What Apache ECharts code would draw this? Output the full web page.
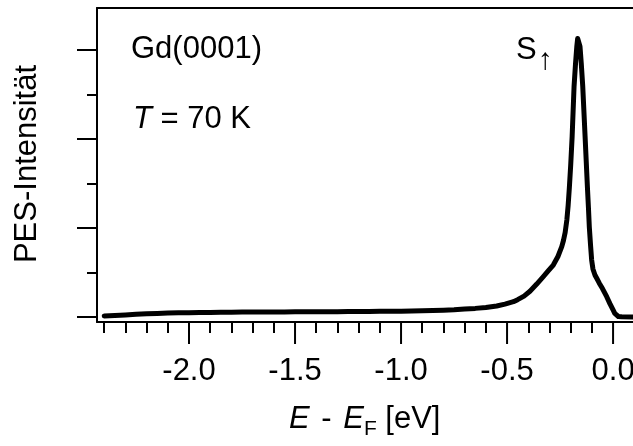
<!DOCTYPE html>
<html>
<head>
<meta charset="utf-8">
<script src="https://cdn.jsdelivr.net/npm/echarts@6/dist/echarts.min.js"></script>
<style>html,body{margin:0;padding:0;background:#fff;}#c{width:633px;height:446px;}</style>
</head>
<body>
<div id="c"></div>
<script>
// Energy E - E_F [eV]
const energy = [
  -2.40,-2.35,-2.30,-2.25,-2.20,-2.15,-2.10,-2.05,-2.00,-1.95,-1.90,-1.85,-1.80,-1.75,-1.70,-1.65,-1.60,-1.55,
  -1.50,-1.45,-1.40,-1.35,-1.30,-1.25,-1.20,-1.15,-1.10,-1.05,-1.00,-0.95,-0.90,-0.85,-0.80,-0.75,-0.70,-0.65,
  -0.60,-0.549,-0.51,-0.47,-0.45,-0.42,-0.392,-0.36,-0.329,-0.305,-0.282,-0.26,-0.242,-0.234,-0.226,-0.218,
  -0.212,-0.206,-0.200,-0.193,-0.184,-0.177,-0.171,-0.167,-0.164,-0.160,-0.156,-0.150,-0.143,-0.132,-0.121,
  -0.116,-0.112,-0.106,-0.101,-0.095,-0.085,-0.077,-0.065,-0.050,-0.030,-0.015,0.000,0.008,0.015,0.025,0.040,0.094
];
// PES intensity (arb. units)
const intensity = [
  0.012,0.016,0.022,0.030,0.036,0.040,0.044,0.047,0.049,0.050,0.052,0.053,0.054,0.055,0.055,0.056,0.057,0.057,
  0.058,0.058,0.059,0.060,0.060,0.061,0.062,0.063,0.064,0.065,0.066,0.068,0.070,0.073,0.077,0.082,0.090,0.097,
  0.107,0.124,0.145,0.172,0.195,0.235,0.290,0.370,0.453,0.520,0.584,0.680,0.790,0.860,0.950,1.090,
  1.250,1.460,1.700,2.030,2.590,2.850,3.040,3.130,3.150,3.120,3.040,2.850,2.590,2.030,1.460,
  1.220,1.010,0.800,0.640,0.540,0.470,0.435,0.380,0.320,0.228,0.150,0.079,0.040,0.018,0.006,0.002,0.000
];
const xMajorTicks = [-2.0,-1.5,-1.0,-0.5,0.0];
const xMinorTicks = [-2.4,-2.3,-2.2,-2.1,-1.9,-1.8,-1.7,-1.6,-1.4,-1.3,-1.2,-1.1,-0.9,-0.8,-0.7,-0.6,-0.4,-0.3,-0.2,-0.1];
const yMajorTicks = [0,1,2,3];
const yMinorTicks = [0.5,1.5,2.5];
const xLabels = ['-2.0','-1.5','-1.0','-0.5','0.0'];

const FONT = 'Liberation Sans, Arial, Helvetica, sans-serif';
const chart = echarts.init(document.getElementById('c'), null, {renderer:'canvas'});
const data = energy.map((e,i)=>[e,intensity[i]]);
const xMin = -2.434, xMax = 0.094, yMin = -0.056, yMax = 3.472;
const MAJOR_TICK_LEN = 22;

function xAx(extra){
  return Object.assign({type:'value', min:xMin, max:xMax, position:'bottom', gridIndex:0,
    axisLine:{show:false, onZero:false}, axisTick:{show:false}, axisLabel:{show:false}, splitLine:{show:false}}, extra);
}
function yAx(extra){
  return Object.assign({type:'value', min:yMin, max:yMax, position:'left', gridIndex:0,
    axisLine:{show:false, onZero:false}, axisTick:{show:false}, axisLabel:{show:false}, splitLine:{show:false}}, extra);
}
const gridBox = {left:97, top:8, right:0, bottom:124, outerBoundsMode:'none'};

chart.setOption({
  backgroundColor:'#fff',
  animation:false,
  grid:[Object.assign({}, gridBox), Object.assign({}, gridBox)],
  xAxis:[
    xAx({axisLine:{show:true, onZero:false, lineStyle:{color:'#000', width:2}},
         axisTick:{show:true, length:11, lineStyle:{color:'#000', width:2}, customValues:xMinorTicks.slice()}}),
    xAx({gridIndex:1, axisLabel:{show:true, customValues:xMajorTicks.slice(), margin:34, color:'#000', fontSize:31, fontFamily:FONT,
       formatter:function(v){ const i = xMajorTicks.findIndex(t=>Math.abs(t-v)<1e-6); return i>=0?xLabels[i]:''; }}}),
    xAx({gridIndex:1, position:'top', axisLine:{show:true, onZero:false, lineStyle:{color:'#000', width:2}}})
  ],
  yAxis:[
    yAx({axisLine:{show:true, onZero:false, lineStyle:{color:'#000', width:2}},
         axisTick:{show:true, length:20, lineStyle:{color:'#000', width:2}, customValues:yMajorTicks.slice()}}),
    yAx({axisTick:{show:true, length:10, lineStyle:{color:'#000', width:2}, customValues:yMinorTicks.slice()}}),
    yAx({gridIndex:1})
  ],
  series:[
    {
      type:'line', data:data, xAxisIndex:0, yAxisIndex:0,
      showSymbol:false, symbol:'none', smooth:false,
      lineStyle:{color:'#000', width:5, join:'round', cap:'round'}
    },
    {
      // long major ticks of the energy axis, placed through the axis scale
      type:'custom', xAxisIndex:0, yAxisIndex:0, clip:false, silent:true, z:5,
      data:xMajorTicks.map(v=>[v, yMin]),
      encode:{x:0, y:1},
      renderItem:function(params, api){
        const p = api.coord([api.value(0), api.value(1)]);
        return {type:'line', shape:{x1:p[0], y1:p[1], x2:p[0], y2:p[1]+MAJOR_TICK_LEN},
                style:{stroke:'#000', lineWidth:2}};
      }
    }
  ],
  graphic:[
    {type:'text', left:131, top:34, style:{text:'Gd(0001)', font:'31px '+FONT, fill:'#000'}},
    {type:'text', left:133, top:104, style:{text:'{i|T} = 70 K', font:'31px '+FONT, fill:'#000',
      rich:{i:{fontStyle:'italic', fontSize:31, fontFamily:FONT}}}},
    {type:'text', left:516, top:35, style:{text:'{s|S}{a|↑}', fill:'#000',
      rich:{s:{fontSize:31, fontFamily:FONT, verticalAlign:'top'}, a:{fontSize:30, fontFamily:FONT, padding:[11,0,0,1], verticalAlign:'top'}}}},
    {type:'text', x:27, y:164, rotation:Math.PI/2, style:{text:'PES-Intensität', font:'31px '+FONT, fill:'#000', align:'center', verticalAlign:'middle'}},
    {type:'text', left:289, top:404, style:{text:'{i|E}{m| - }{i|E}{f|F}{r| [eV]}', fill:'#000', font:'31px '+FONT,
      rich:{i:{fontStyle:'italic', fontSize:31, fontFamily:FONT, verticalAlign:'top'},
            m:{fontSize:31, fontFamily:FONT, verticalAlign:'top', padding:[0,3,0,3]},
            r:{fontSize:31, fontFamily:FONT, verticalAlign:'top'},
            f:{fontSize:21, fontFamily:FONT, padding:[15,0,0,0], verticalAlign:'top'}}}}
  ]
});
</script>
</body>
</html>
